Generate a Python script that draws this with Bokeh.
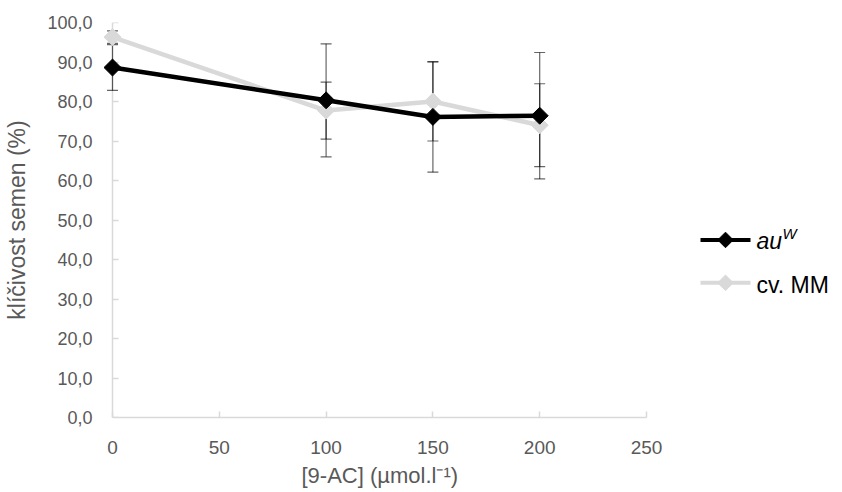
import numpy as np
from bokeh.plotting import figure
from bokeh.models import Range1d, FixedTicker, LinearAxis, Title
from bokeh.core.properties import value
from bokeh.embed import file_html
from bokeh.resources import INLINE

# ---------------- data ----------------
x_conc = [0, 100, 150, 200]
au_w = [88.6, 80.3, 76.1, 76.4]
au_w_err = [5.8, 14.3, 14.0, 16.0]
cv_mm = [96.3, 77.7, 80.0, 74.0]
cv_mm_err = [1.6, 7.2, 10.0, 10.5]

x_ticks = [0, 50, 100, 150, 200, 250]
y_ticks = [0, 10, 20, 30, 40, 50, 60, 70, 80, 90, 100]
y_tick_labels = ["0,0", "10,0", "20,0", "30,0", "40,0", "50,0",
                 "60,0", "70,0", "80,0", "90,0", "100,0"]
x_label = "[9-AC] (µmol.l⁻¹)"
y_label = "klíčivost semen (%)"
legend_au = ("au", "W")
legend_cv = "cv. MM"

# ---------------- style ----------------
FONT = "Liberation Sans"
TXT = "#595959"
AX = "#d9d9d9"
AU_COLOR = "#000000"
CV_COLOR = "#d9d9d9"

W, H = 842, 492
left_px, right_px, top_px, bottom_px = 112, 646, 22, 418
pad = 10
xmin, xmax = 0, 250
ymin, ymax = 0, 100
ppu = (right_px - left_px) / (xmax - xmin)
ppy = (bottom_px - top_px) / (ymax - ymin)
frame_left = left_px - pad
x_title_width = 156  # approx. rendered width of the x-axis title

# the frame reaches the right edge of the page so the legend can live in it
p = figure(width=W, height=H,
           x_range=Range1d(xmin - pad / ppu, xmax + (W - right_px) / ppu),
           y_range=Range1d(ymin, ymax),
           output_backend="svg", toolbar_location=None,
           min_border_left=frame_left, min_border_right=0,
           min_border_top=top_px, min_border_bottom=H - bottom_px)
p.outline_line_color = None
p.grid.visible = False


def px_to_x(px):
    return xmin + (px - left_px) / ppu


def py_to_y(py):
    return ymin + (bottom_px - py) / ppy


# x axis
xa = p.xaxis[0]
xa.ticker = FixedTicker(ticks=x_ticks)
xa.bounds = (xmin, xmax)
xa.axis_line_color = AX
xa.axis_line_width = 1.5
xa.major_tick_line_color = AX
xa.major_tick_line_width = 1.5
xa.major_tick_in = 6
xa.major_tick_out = 0
xa.minor_tick_line_color = None
xa.major_label_text_font = FONT
xa.major_label_text_font_size = "19px"
xa.major_label_text_color = TXT
xa.major_label_standoff = 23

# x axis title, centred under the axis line rather than the wide frame
x_title = Title(text=x_label, align="left",
                offset=(left_px + right_px) / 2 - x_title_width / 2 - frame_left,
                text_font=FONT, text_font_size="22px",
                text_font_style="normal", text_color=TXT, standoff=9)
p.add_layout(x_title, "below")

# y axis: labels (at frame edge, no line / ticks)
ya = p.yaxis[0]
ya.ticker = FixedTicker(ticks=y_ticks)
ya.major_label_overrides = {t: l for t, l in zip(y_ticks, y_tick_labels)}
ya.axis_line_color = None
ya.major_tick_line_color = None
ya.minor_tick_line_color = None
ya.major_tick_in = 0
ya.major_tick_out = 0
ya.major_label_text_font = FONT
ya.major_label_text_font_size = "18px"
ya.major_label_text_color = TXT
ya.major_label_standoff = pad
ya.axis_label = y_label
ya.axis_label_text_font = FONT
ya.axis_label_text_font_size = "23px"
ya.axis_label_text_font_style = "normal"
ya.axis_label_text_color = TXT
ya.axis_label_standoff = 14

# y axis line + inside ticks at x = 0
yl = LinearAxis(fixed_location=xmin, ticker=FixedTicker(ticks=y_ticks),
                major_label_overrides={t: "" for t in y_ticks},
                major_label_text_font_size="0px", major_label_standoff=0,
                axis_line_color=AX, axis_line_width=1.5,
                major_tick_line_color=AX, major_tick_line_width=1.5,
                major_tick_in=0, major_tick_out=6,
                minor_tick_line_color=None, level="underlay")
p.add_layout(yl, "right")

# error bars
for vals, errs in ((au_w, au_w_err), (cv_mm, cv_mm_err)):
    lo = [v - e for v, e in zip(vals, errs)]
    hi = [v + e for v, e in zip(vals, errs)]
    p.segment(x0=x_conc, y0=lo, x1=x_conc, y1=hi,
              line_color="black", line_alpha=0.6, line_width=1.2)
    p.scatter(x=x_conc + x_conc, y=lo + hi, marker="dash", size=11,
              line_color="black", line_alpha=0.6, line_width=1.2)

# series
p.line(x_conc, cv_mm, line_color=CV_COLOR, line_width=4.5)
p.scatter(x_conc, cv_mm, marker="square", angle=np.pi / 4, size=12,
          fill_color=CV_COLOR, line_color=CV_COLOR)
p.line(x_conc, au_w, line_color=AU_COLOR, line_width=4.5)
p.scatter(x_conc, au_w, marker="square", angle=np.pi / 4, size=12,
          fill_color=AU_COLOR, line_color=AU_COLOR)

# ---------------- legend (drawn inside the widened frame) ----------------
rows_py = [240, 283]
colors = [AU_COLOR, CV_COLOR]
ly = [py_to_y(v) for v in rows_py]
p.segment(x0=[px_to_x(700)] * 2, y0=ly, x1=[px_to_x(750)] * 2, y1=ly,
          line_color=colors, line_width=4)
p.scatter(x=[px_to_x(725)] * 2, y=ly, marker="square", angle=np.pi / 4,
          size=11, fill_color=colors, line_color=colors)
p.text(x=[px_to_x(756)], y=[py_to_y(rows_py[0] + 1)], text=[legend_au[0]],
       text_font=value(FONT), text_font_size="23px", text_font_style="italic",
       text_color="#000000", text_baseline="middle", text_align="left")
p.text(x=[px_to_x(782)], y=[py_to_y(rows_py[0] - 6)], text=[legend_au[1]],
       text_font=value(FONT), text_font_size="15px", text_font_style="italic",
       text_color="#000000", text_baseline="middle", text_align="left")
p.text(x=[px_to_x(756)], y=[py_to_y(rows_py[1] + 2)], text=[legend_cv],
       text_font=value(FONT), text_font_size="23px",
       text_color="#000000", text_baseline="middle", text_align="left")

open("out.html", "w").write(file_html(p, INLINE))
